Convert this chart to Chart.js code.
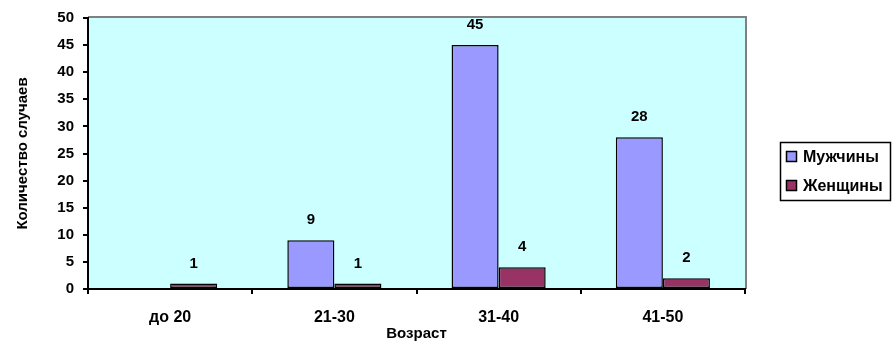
<!DOCTYPE html>
<html lang="ru">
<head>
<meta charset="utf-8">
<script src="https://cdn.jsdelivr.net/npm/chart.js@4"></script>
<style>
  html, body { margin: 0; padding: 0; background: #ffffff; }
  #wrap { width: 893px; height: 343px; position: relative; }
</style>
</head>
<body>
<div id="wrap"><canvas id="c" width="893" height="343"></canvas></div>
<script>
// Возрастные группы и число случаев
const categories = ['до 20', '21-30', '31-40', '41-50'];
const seriesNames = ['Мужчины', 'Женщины'];
const men = [0, 9, 45, 28];
const women = [1, 1, 4, 2];
const yTicks = [0, 5, 10, 15, 20, 25, 30, 35, 40, 45, 50];

const FONT = "'Liberation Sans', Arial, sans-serif";
const colors = ['#9999FF', '#993366'];

// Фон области построения и серая рамка сверху и справа
const plotBackground = {
  id: 'plotBackground',
  beforeDraw(chart) {
    const { ctx, chartArea: a } = chart;
    ctx.save();
    ctx.fillStyle = '#CCFFFF';
    ctx.fillRect(a.left, a.top, a.right - a.left, a.bottom - a.top);
    ctx.strokeStyle = '#808080';
    ctx.lineWidth = 2;
    ctx.beginPath();
    ctx.moveTo(a.left, a.top - 1);
    ctx.lineTo(a.right + 1, a.top - 1);
    ctx.lineTo(a.right + 1, a.bottom);
    ctx.stroke();
    ctx.restore();
  }
};

// Подписи значений над столбцами
const valueLabels = {
  id: 'valueLabels',
  afterDatasetsDraw(chart) {
    const { ctx } = chart;
    ctx.save();
    ctx.font = `bold 15px ${FONT}`;
    ctx.fillStyle = '#000000';
    ctx.textAlign = 'center';
    ctx.textBaseline = 'middle';
    chart.data.datasets.forEach((ds, i) => {
      chart.getDatasetMeta(i).data.forEach((bar, j) => {
        const v = ds.data[j];
        if (!v) return;
        ctx.fillText(String(v), bar.x, bar.y - 20);
      });
    });
    ctx.restore();
  }
};

// Легенда в рамке справа
const boxedLegend = {
  id: 'boxedLegend',
  afterDraw(chart) {
    const { ctx } = chart;
    const x = 780, y = 142, w = 110, h = 58;
    ctx.save();
    ctx.fillStyle = '#ffffff';
    ctx.fillRect(x, y, w, h);
    ctx.strokeStyle = '#000000';
    ctx.lineWidth = 1.5;
    ctx.strokeRect(x + 0.5, y + 0.5, w, h);
    ctx.font = `bold 16px ${FONT}`;
    ctx.textBaseline = 'middle';
    ctx.textAlign = 'left';
    chart.data.datasets.forEach((ds, i) => {
      const cy = 157 + i * 29;
      ctx.fillStyle = ds.backgroundColor;
      ctx.fillRect(786.5, cy - 5.5, 10, 10);
      ctx.strokeStyle = '#000000';
      ctx.lineWidth = 1.5;
      ctx.strokeRect(786.5, cy - 5.5, 10, 10);
      ctx.fillStyle = '#000000';
      ctx.fillText(ds.label, 803, cy + 1);
    });
    ctx.restore();
  }
};

new Chart(document.getElementById('c'), {
  type: 'bar',
  data: {
    labels: categories,
    datasets: [
      { label: seriesNames[0], data: men, backgroundColor: colors[0] },
      { label: seriesNames[1], data: women, backgroundColor: colors[1] }
    ].map(d => Object.assign(d, {
      borderColor: '#000000',
      borderWidth: 1.5,
      borderSkipped: false,
      categoryPercentage: 0.573,
      barPercentage: 1
    }))
  },
  options: {
    responsive: false,
    animation: false,
    layout: { padding: { top: 17, right: 148, left: 0, bottom: 0 } },
    plugins: {
      legend: { display: false },
      tooltip: { enabled: false }
    },
    scales: {
      x: {
        offset: true,
        grid: {
          offset: true,
          drawOnChartArea: false,
          color: '#000000',
          tickLength: 5,
          lineWidth: 2
        },
        border: { color: '#000000', width: 2 },
        ticks: {
          color: '#000000',
          font: { family: FONT, size: 16, weight: 'bold' },
          padding: 14,
          maxRotation: 0
        },
        title: {
          display: true,
          text: 'Возраст',
          color: '#000000',
          font: { family: FONT, size: 15, weight: 'bold' },
          padding: { top: 0, bottom: 0 }
        },
        afterFit(scale) { scale.height = 54; }
      },
      y: {
        min: 0,
        max: 50,
        afterBuildTicks(scale) { scale.ticks = yTicks.map(v => ({ value: v })); },
        grid: {
          drawOnChartArea: false,
          color: '#000000',
          tickLength: 5,
          lineWidth: 2
        },
        border: { color: '#000000', width: 2 },
        ticks: {
          color: '#000000',
          font: { family: FONT, size: 15, weight: 'bold' },
          padding: 9
        },
        title: {
          display: true,
          text: 'Количество случаев',
          color: '#000000',
          font: { family: FONT, size: 15, weight: 'bold' },
          padding: { top: 14, bottom: 0 }
        },
        afterFit(scale) { scale.width = 88; }
      }
    }
  },
  plugins: [plotBackground, valueLabels, boxedLegend]
});
</script>
</body>
</html>
